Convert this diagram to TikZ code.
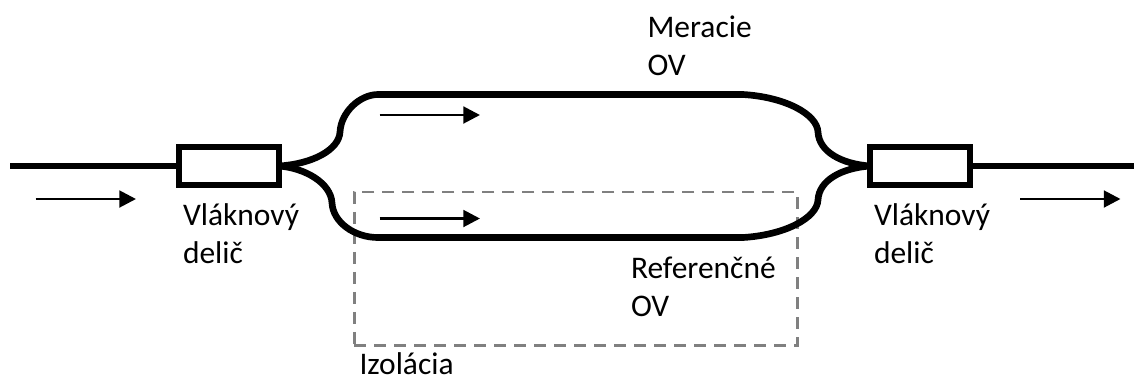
\documentclass[tikz,border=0pt]{standalone}
\usepackage{fontspec}
\setmainfont{Carlito}
\usetikzlibrary{arrows.meta}
\tikzset{
  fiber/.style={line width=5pt,black},
  splitter/.style={draw=black,line width=4.5pt,fill=white,minimum width=75pt,minimum height=28.5pt,inner sep=0pt,outer sep=0pt},
  flow/.style={line width=2.2pt,black,-{Triangle[length=12.5pt,width=12.5pt]}},
  isol/.style={draw=gray,line width=2pt,dash pattern=on 9pt off 6pt},
  lbl/.style={anchor=base west,inner sep=0pt,outer sep=0pt,align=left,font=\fontsize{23.6pt}{28.5pt}\selectfont}
}
\begin{document}
\begin{tikzpicture}[x=0.75pt,y=-0.75pt]
\useasboundingbox (0,0) rectangle (1134,379);
% fibres
\coordinate (inL) at (10,166);
\coordinate (outR) at (1134,166);
\coordinate (topA) at (378,94.5);
\coordinate (topB) at (743,94.5);
\coordinate (botA) at (378,237.5);
\coordinate (botB) at (743,237.5);
\node[isol,draw,minimum width=332.5pt,minimum height=115pt,inner sep=0pt] (iso) at (576,268.5) {};
\draw[fiber] (inL) -- (229,166);
\draw[fiber] (920,166) -- (outR);
\node[splitter] (sL) at (229,166) {};
\node[splitter] (sR) at (920,166) {};
\draw[fiber] (sL.east) .. controls (312,164) and (339,150) .. (340,132)
   .. controls (341,112) and (360,94.5) .. (topA) -- (topB)
   .. controls (785,97) and (817,114) .. (818,132)
   .. controls (819,152) and (842,164) .. (sR.west);
\draw[fiber] (sL.east) .. controls (305,168) and (331,183) .. (332,203)
   .. controls (333,222) and (354,237.5) .. (botA) -- (botB)
   .. controls (785,235) and (817,218) .. (818,200)
   .. controls (819,180) and (842,168) .. (sR.west);
% arrows
\coordinate (a1s) at (35.5,199);  \coordinate (a1e) at (136,199);
\coordinate (a2s) at (379.5,115); \coordinate (a2e) at (480,115);
\coordinate (a3s) at (379.5,218.5); \coordinate (a3e) at (480,218.5);
\coordinate (a4s) at (1020,199);\coordinate (a4e) at (1120.5,199);
\draw[flow] (a1s) -- (a1e);
\draw[flow] (a2s) -- (a2e);
\draw[flow] (a3s) -- (a3e);
\draw[flow] (a4s) -- (a4e);
% labels
\node[lbl] (t1) at (647.5,75) {Meracie\\OV};
\node[lbl] (t2) at (631,316) {Referenčné\\OV};
\node[lbl] (t3) at (183,263) {Vláknový\\delič};
\node[lbl] (t4) at (874,263) {Vláknový\\delič};
\node[lbl] (t5) at (359.5,374.5) {Izolácia};
\end{tikzpicture}
\end{document}
